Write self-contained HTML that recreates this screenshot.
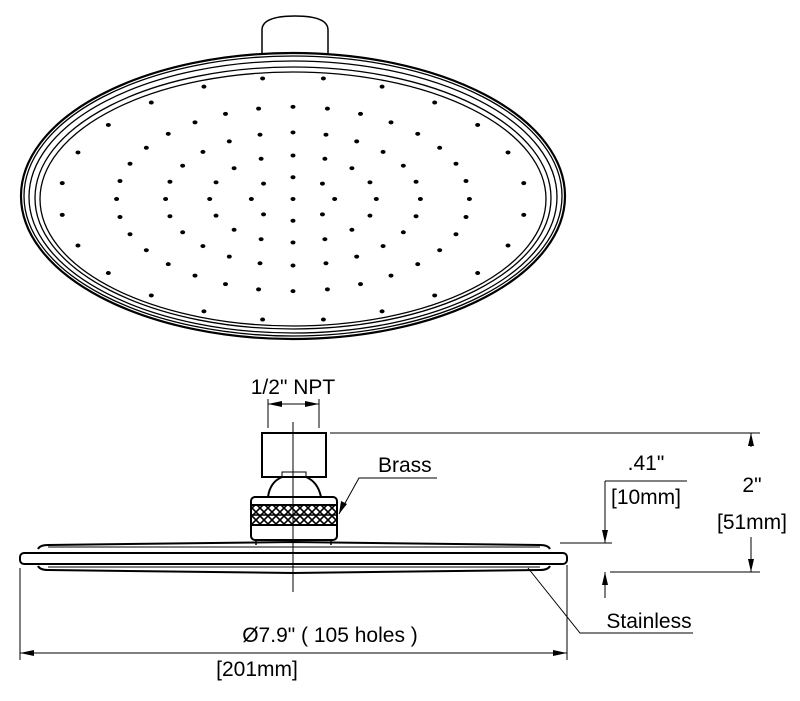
<!DOCTYPE html>
<html><head><meta charset="utf-8"><style>
html,body{margin:0;padding:0;background:#fff}
svg{display:block}
text{font-family:"Liberation Sans",Arial,sans-serif;fill:#000}
</style></head><body>
<svg id="s" width="800" height="701" viewBox="0 0 800 701" xmlns="http://www.w3.org/2000/svg">
<defs>
<pattern id="k" width="8" height="8" patternUnits="userSpaceOnUse"><rect width="8" height="8" fill="#fff"/><path d="M0,0 L8,8 M8,0 L0,8" stroke="#000" stroke-width="1.6"/></pattern>
</defs>
<g fill="none" stroke="#000">
<path d="M262,53 L262,30 Q262,16 295,16 Q328,16 328,30 L328,53" stroke-width="1.5"/>
<ellipse cx="293" cy="196" rx="272" ry="143" stroke-width="2.2" fill="#fff"/>
<ellipse cx="293" cy="196" rx="269" ry="140" stroke-width="1.3"/>
<ellipse cx="293" cy="197" rx="264" ry="136" stroke-width="1.3"/>
<ellipse cx="293" cy="198" rx="258" ry="131" stroke-width="1.3"/>
<ellipse cx="293" cy="199" rx="253" ry="127" stroke-width="1.3"/>
<g id="holes"></g>
<rect x="262" y="433" width="64" height="44" stroke-width="2" fill="none"/>
<rect x="282" y="472" width="24" height="5" stroke-width="1"/>
<path d="M268,497 Q270,482 282,477 L306,477 Q318,482 321,497" stroke-width="2"/>
<rect x="251" y="497" width="86" height="43" rx="4" stroke-width="2" fill="#fff"/>
<rect x="251" y="505" width="86" height="20" fill="url(#k)" stroke-width="2"/>
<line x1="251" y1="515" x2="337" y2="515" stroke-width="1.5"/>
<path d="M256,540 L256,545 M331,540 L331,545" stroke-width="1.5"/>
<path d="M38,549 Q40,545 48,545 L293,542 L540,545 Q548,545 550,549" stroke-width="2"/>
<path d="M38,566 Q40,570 48,570 L293,573 L540,570 Q548,570 550,566" stroke-width="2"/>
<rect x="20" y="553" width="547" height="11" rx="4" stroke-width="2" fill="#fff"/>
<line x1="48" y1="547" x2="540" y2="547" stroke-width="1"/>
<line x1="48" y1="567" x2="540" y2="567" stroke-width="1"/>
<line x1="293" y1="422" x2="293" y2="592" stroke-width="1"/>
<g stroke-width="1">
<line x1="268" y1="399" x2="268" y2="428"/><line x1="319" y1="399" x2="319" y2="428"/>
<line x1="268" y1="404" x2="319" y2="404"/>
<line x1="330" y1="433" x2="760" y2="433"/>
<line x1="610" y1="572" x2="760" y2="572"/>
<line x1="560" y1="543" x2="612" y2="543"/>
<line x1="751" y1="447" x2="751" y2="433"/>
<line x1="751" y1="537" x2="751" y2="572"/>
<line x1="687" y1="481" x2="605" y2="481"/>
<line x1="605" y1="481" x2="605" y2="543"/>
<line x1="605" y1="598" x2="605" y2="572"/>
<line x1="20" y1="568" x2="20" y2="660"/>
<line x1="567" y1="565" x2="567" y2="660"/>
<line x1="20" y1="653" x2="567" y2="653"/>
<polyline points="437,478 359,478 339,514"/>
<polyline points="693,633 580,633 528,568"/>
</g>
</g>
<g fill="#000" stroke="none">
<path d="M268,404 L282,401 L282,407 Z M319,404 L305,401 L305,407 Z"/>
<path d="M751,433 L748,446 L754,446 Z M751,572 L748,559 L754,559 Z"/>
<path d="M605,543 L602,530 L608,530 Z M605,572 L602,585 L608,585 Z"/>
<path d="M20,653 L34,650 L34,656 Z M567,653 L553,650 L553,656 Z"/>
<path d="M339,514 L341,501 L347,504 Z"/>
</g>
<g font-size="21">
<text x="293" y="394" text-anchor="middle">1/2" NPT</text>
<text x="378" y="472">Brass</text>
<text x="646" y="470" text-anchor="middle">.41"</text>
<text x="646" y="504" text-anchor="middle">[10mm]</text>
<text x="752" y="492" text-anchor="middle">2"</text>
<text x="752" y="529" text-anchor="middle">[51mm]</text>
<text x="649" y="628" text-anchor="middle">Stainless</text>
<text x="330" y="642" text-anchor="middle">Ø7.9"  ( 105 holes )</text>
<text x="257" y="676" text-anchor="middle">[201mm]</text>
</g>
</svg>
<script>
var g=document.getElementById('holes'),cx=293,cy=199,rings=[[0,1],[0.17,8],[0.34,16],[0.52,24],[0.72,32],[0.95,24]];
rings.forEach(function(r){for(var i=0;i<r[1];i++){var t=2*Math.PI*i/r[1]+(r[0]>0.9?Math.PI/24:0)-Math.PI/2;
var c=document.createElementNS('http://www.w3.org/2000/svg','ellipse');
c.setAttribute('cx',cx+r[0]*245*Math.cos(t));c.setAttribute('cy',cy+r[0]*128*Math.sin(t));
c.setAttribute('rx',2);c.setAttribute('ry',1.5);c.setAttribute('fill','#000');g.appendChild(c);}});
</script>
</body></html>
